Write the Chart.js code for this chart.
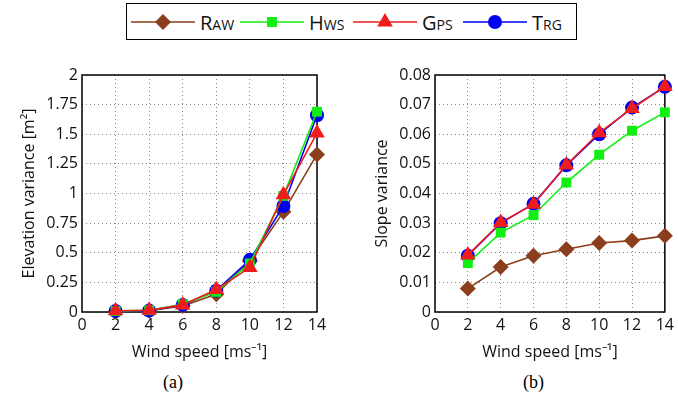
<!DOCTYPE html>
<html>
<head>
<meta charset="utf-8">
<script src="https://cdn.jsdelivr.net/npm/chart.js@4"></script>
<style>
    body { margin: 0; background: #fff; width: 678px; height: 409px; position: relative; overflow: hidden; font-family: "Open Sans", sans-serif; }
    .wrap { position: absolute; top: 60px; width: 339px; height: 306px; }
    #legend { position: absolute; left: 126px; top: 3px; width: 451px; height: 37px; border: 1px solid #000; box-sizing: border-box; }
    .item { position: absolute; top: 5px; height: 26px; display: flex; align-items: center; }
    .item span { font-size: 20px; font-variant: small-caps; color: #111; margin-left: 5px; }
    .cap { position: absolute; top: 372px; font-family: "Liberation Serif", serif; font-size: 18px; }
</style>
</head>
<body>
<div id="legend"></div>
<div class="wrap" style="left:0"><canvas id="elev"></canvas></div>
<div class="wrap" style="left:339px"><canvas id="slope"></canvas></div>
<div class="cap" style="left:163px">(a)</div>
<div class="cap" style="left:523px">(b)</div>
<script>
const windSpeed = [2, 4, 6, 8, 10, 12, 14];
const xTicks = [0, 2, 4, 6, 8, 10, 12, 14];
const elevTicks = [0, 0.25, 0.5, 0.75, 1, 1.25, 1.5, 1.75, 2];
const slopeTicks = [0, 0.01, 0.02, 0.03, 0.04, 0.05, 0.06, 0.07, 0.08];

const seriesNames = ['Raw', 'Hws', 'Gps', 'Trg'];

// elevation variance [m^2]
const elevRaw = [0.005, 0.01, 0.05, 0.15, 0.43, 0.845, 1.33];
const elevHws = [0.008, 0.015, 0.065, 0.17, 0.41, 0.98, 1.69];
const elevGps = [0.01, 0.015, 0.06, 0.19, 0.375, 0.99, 1.51];
const elevTrg = [0.008, 0.012, 0.06, 0.18, 0.44, 0.895, 1.66];

// slope variance
const slopeRaw = [0.0079, 0.0152, 0.019, 0.0212, 0.0233, 0.0241, 0.0257];
const slopeHws = [0.0165, 0.0268, 0.0327, 0.0437, 0.0531, 0.0612, 0.0674];
const slopeGps = [0.0192, 0.0302, 0.0364, 0.0496, 0.0605, 0.0687, 0.0761];
const slopeTrg = [0.019, 0.030, 0.0365, 0.0495, 0.0600, 0.0690, 0.0760];

const styles = {
    Raw: { color: '#8b3e1c', point: 'rectRot', radius: 8, order: 3, left: 4 },
    Hws: { color: '#11ee11', point: 'rect', radius: 7, order: 1, left: 113 },
    Gps: { color: '#ee1c1c', point: 'triangle', radius: 9, order: 0, left: 226 },
    Trg: { color: '#0000f0', point: 'circle', radius: 7, order: 2, left: 336 }
};

function makeSets(values) {
    return seriesNames.map((name, i) => {
        const s = styles[name];
        return {
            label: name,
            data: windSpeed.map((x, j) => ({ x: x, y: values[i][j] })),
            borderColor: s.color,
            backgroundColor: s.color,
            borderWidth: 1.6,
            pointStyle: s.point,
            pointRadius: s.radius,
            pointBorderWidth: 0,
            order: s.order,
            clip: false
        };
    });
}

// black box around plot area
const boxPlugin = {
    id: 'box',
    beforeDatasetsDraw(chart) {
        const a = chart.chartArea, c = chart.ctx;
        c.save();
        c.strokeStyle = '#000';
        c.lineWidth = 1.5;
        c.strokeRect(a.left, a.top, a.right - a.left, a.bottom - a.top);
        c.restore();
    }
};

const tickFont = { family: 'Open Sans', size: 16 };
const titleFont = { family: 'Open Sans', size: 16 };

function fmt(v) {
    return String(Number(v.toFixed(3)));
}

function makeChart(id, sets, yTicks, yMax, yTitle, padLeft, yWidth, padRight) {
    return new Chart(document.getElementById(id), {
        type: 'line',
        data: { datasets: sets },
        options: {
            responsive: true,
            maintainAspectRatio: false,
            animation: false,
            layout: { padding: { top: 15, right: padRight, left: padLeft, bottom: 0 } },
            plugins: { legend: { display: false }, tooltip: { enabled: false } },
            scales: {
                x: {
                    type: 'linear', min: 0, max: 14,
                    afterBuildTicks(s) { s.ticks = xTicks.map(v => ({ value: v })); },
                    afterFit(s) { s.height = 54; },
                    grid: { color: '#888', lineWidth: 1, drawTicks: false },
                    border: { dash: [1, 3], display: false },
                    ticks: { color: '#111', font: tickFont, padding: 4, maxRotation: 0, callback: v => fmt(v) },
                    title: { display: true, text: 'Wind speed [ms\u207B\u00B9]', color: '#111', font: titleFont, padding: { top: 1 } }
                },
                y: {
                    type: 'linear', min: 0, max: yMax,
                    afterBuildTicks(s) { s.ticks = yTicks.map(v => ({ value: v })); },
                    afterFit(s) { s.width = yWidth; },
                    grid: { color: '#888', lineWidth: 1, drawTicks: false },
                    border: { dash: [1, 3], display: false },
                    ticks: { color: '#111', font: tickFont, padding: 4, callback: v => fmt(v) },
                    title: { display: true, text: yTitle, color: '#111', font: titleFont, padding: { bottom: 0 } }
                }
            }
        },
        plugins: [boxPlugin]
    });
}

makeChart('elev', makeSets([elevRaw, elevHws, elevGps, elevTrg]), elevTicks, 2,
    'Elevation variance [m\u00B2]', 16, 66, 22);
makeChart('slope', makeSets([slopeRaw, slopeHws, slopeGps, slopeTrg]), slopeTicks, 0.08,
    'Slope variance', 30, 66, 8);

// legend: line with marker, then label
const legend = document.getElementById('legend');
seriesNames.forEach(name => {
    const s = styles[name];
    const item = document.createElement('div');
    item.className = 'item';
    item.style.left = s.left + 'px';
    const cv = document.createElement('canvas');
    cv.width = 64; cv.height = 26;
    const c = cv.getContext('2d');
    c.strokeStyle = s.color; c.fillStyle = s.color; c.lineWidth = 1.6;
    c.beginPath(); c.moveTo(0, 13); c.lineTo(64, 13); c.stroke();
    Chart.helpers.drawPoint(c, { pointStyle: s.point, radius: s.radius, rotation: 0, borderWidth: 0 }, 32, 13);
    const lbl = document.createElement('span');
    lbl.textContent = name;
    item.appendChild(cv);
    item.appendChild(lbl);
    legend.appendChild(item);
});
</script>
</body>
</html>
